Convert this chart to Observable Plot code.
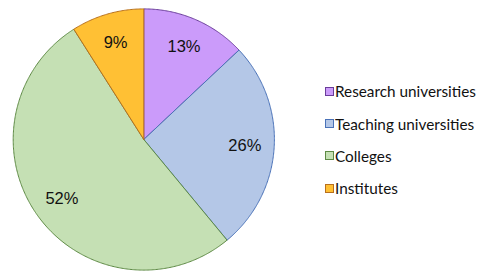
<!DOCTYPE html>
<html>
<head>
<meta charset="utf-8">
<script src="https://cdn.jsdelivr.net/npm/d3@7"></script>
<script src="https://cdn.jsdelivr.net/npm/@observablehq/plot@0.6"></script>
<style>
  html, body { margin: 0; padding: 0; background: #fff; }
  #wrap { position: relative; width: 486px; height: 279px; overflow: hidden; }
  #chart { position: absolute; left: 0; top: 0; }
  #legend { position: absolute; left: 325px; top: 75px; font-family: Lato, "Open Sans", sans-serif; font-size: 15.3px; color: #111; }
  .row { display: flex; align-items: center; height: 32.4px; }
  .sw { width: 7px; height: 7px; border: 1px solid; margin-right: 1px; flex: none; }
</style>
</head>
<body>
<div id="wrap"><div id="chart"></div><div id="legend"></div></div>
<script>
const categories = ["Research universities", "Teaching universities", "Colleges", "Institutes"];
const shares = [13, 26, 52, 9];
const labels = ["13%", "26%", "52%", "9%"];
const fills = ["#CB9BFA", "#B4C7E7", "#C5E0B4", "#FFC034"];
const strokes = ["#6A3D9A", "#4A72B8", "#5E8A45", "#B8701E"];

const table = categories.map((c, i) => ({category: c, share: shares[i], label: labels[i]}));
const arcs = d3.pie().sort(null).value(d => d.share)(table);

// polygon outline of each slice in unit-circle coordinates (y up)
const outline = [];
arcs.forEach(a => {
  const cat = a.data.category;
  outline.push({category: cat, x: 0, y: 0});
  const n = Math.max(2, Math.ceil((a.endAngle - a.startAngle) / 0.01));
  for (let k = 0; k <= n; k++) {
    const t = a.startAngle + (a.endAngle - a.startAngle) * k / n;
    outline.push({category: cat, x: Math.sin(t), y: Math.cos(t)});
  }
  outline.push({category: cat, x: 0, y: 0});
});
const labelPts = arcs.map(a => {
  const m = (a.startAngle + a.endAngle) / 2;
  return {label: a.data.label, x: 0.775 * Math.sin(m), y: 0.775 * Math.cos(m)};
});

const cx = 143.3, cy = 139, R = 130.6;
const chart = Plot.plot({
  width: 300,
  height: 279,
  margin: 0,
  x: {domain: [-1, 1], range: [cx - R, cx + R], axis: null},
  y: {domain: [-1, 1], range: [cy + R, cy - R], axis: null},
  color: {domain: categories, range: fills},
  marks: [
    Plot.line(outline, {x: "x", y: "y", z: "category", fill: "category",
      stroke: d => strokes[categories.indexOf(d.category)], strokeWidth: 1, curve: "linear"}),
    Plot.text(labelPts, {x: "x", y: "y", text: "label", fontSize: 16.5,
      fontFamily: "Liberation Sans, Arial, sans-serif", fill: "#111"})
  ]
});
chart.style.background = "transparent";
document.getElementById("chart").appendChild(chart);

const legend = document.getElementById("legend");
categories.forEach((c, i) => {
  const row = document.createElement("div");
  row.className = "row";
  const sw = document.createElement("div");
  sw.className = "sw";
  sw.style.background = fills[i];
  sw.style.borderColor = strokes[i];
  const tx = document.createElement("span");
  tx.textContent = c;
  row.appendChild(sw);
  row.appendChild(tx);
  legend.appendChild(row);
});
</script>
</body>
</html>
